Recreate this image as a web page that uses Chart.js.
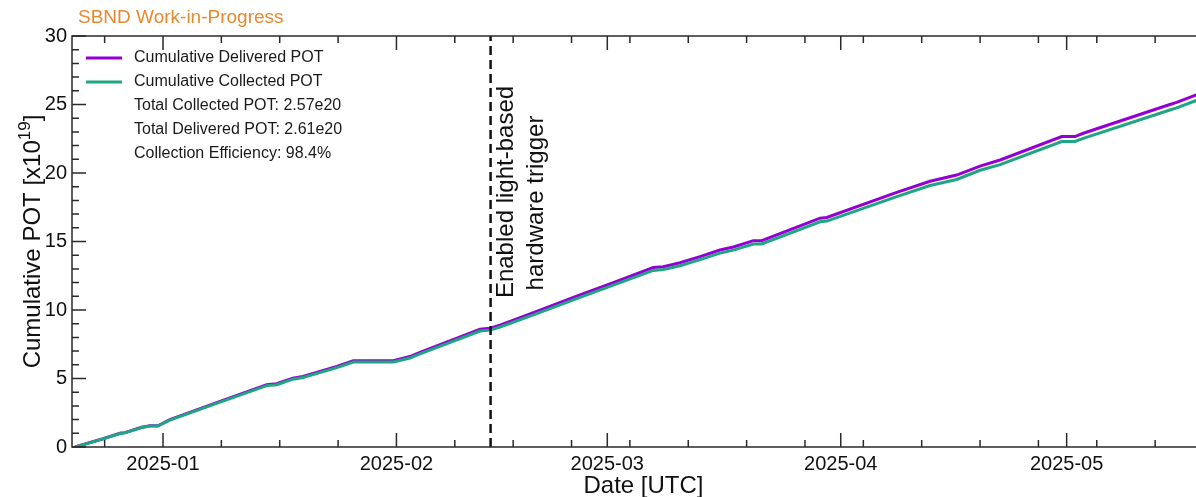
<!DOCTYPE html>
<html>
<head>
<meta charset="utf-8">
<script src="https://cdn.jsdelivr.net/npm/chart.js@4"></script>
<style>
  html, body { margin: 0; padding: 0; background: #fff; overflow: hidden; }
  #wrap { width: 1240px; height: 497px; }
</style>
</head>
<body>
<div id="wrap"><canvas id="potChart"></canvas></div>
<script>
// timestamps (UTC) of the sampled points
const potDates = [
  "2024-12-20 07:30", "2024-12-24 01:00", "2024-12-26 07:00", "2024-12-26 23:00",
  "2024-12-29 04:00", "2024-12-30 06:30", "2024-12-31 08:00", "2025-01-01 22:00",
  "2025-01-08 14:00", "2025-01-14 18:30", "2025-01-16 02:30", "2025-01-18 06:00",
  "2025-01-19 14:00", "2025-01-24 02:00", "2025-01-26 06:30", "2025-01-31 14:00",
  "2025-02-02 19:00", "2025-02-04 03:00", "2025-02-12 02:30", "2025-02-13 10:30",
  "2025-02-14 18:00", "2025-02-19 04:30", "2025-02-25 09:00", "2025-03-01 19:00",
  "2025-03-07 02:30", "2025-03-08 10:30", "2025-03-10 16:00", "2025-03-13 07:30",
  "2025-03-15 23:00", "2025-03-17 18:00", "2025-03-20 09:30", "2025-03-21 12:00",
  "2025-03-29 06:00", "2025-03-30 03:30", "2025-04-08 10:30", "2025-04-12 20:30",
  "2025-04-16 09:30", "2025-04-19 12:00", "2025-04-22 04:00", "2025-04-30 08:30",
  "2025-05-02 02:30", "2025-05-03 05:00", "2025-05-14 17:00", "2025-05-15 14:30",
  "2025-05-18 05:00", "2025-05-20 10:00"
];
// cumulative POT, units of 1e19
const deliveredPOT = [
  0, 0.6, 1.0, 1.05, 1.44, 1.55, 1.55, 2.0,
  3.33, 4.55, 4.62, 5.03, 5.15, 5.88, 6.3, 6.3,
  6.6, 6.9, 8.6, 8.67, 8.9, 9.8, 11.1, 12.0,
  13.1, 13.16, 13.45, 13.9, 14.38, 14.6, 15.06, 15.06,
  16.7, 16.75, 18.58, 19.4, 19.85, 20.5, 20.95, 22.66,
  22.66, 22.9, 25.0, 25.15, 25.7, 26.1
];
const collectedPOT = [
  0, 0.59, 0.98, 1.03, 1.42, 1.53, 1.53, 1.97,
  3.28, 4.48, 4.55, 4.95, 5.07, 5.79, 6.2, 6.2,
  6.5, 6.79, 8.46, 8.53, 8.76, 9.64, 10.92, 11.81,
  12.89, 12.95, 13.23, 13.68, 14.15, 14.37, 14.82, 14.82,
  16.44, 16.49, 18.28, 19.09, 19.53, 20.2, 20.61, 22.3,
  22.3, 22.53, 24.6, 24.75, 25.29, 25.7
];
const triggerDate = "2025-02-13 12:00";

const xTickDates = ["2025-01-01", "2025-02-01", "2025-03-01", "2025-04-01", "2025-05-01"];
const xTickLabels = ["2025-01", "2025-02", "2025-03", "2025-04", "2025-05"];
const yTicks = [0, 5, 10, 15, 20, 25, 30];

const legendLines = [
  "Total Collected POT: 2.57e20",
  "Total Delivered POT: 2.61e20",
  "Collection Efficiency: 98.4%"
];

const PURPLE = "#9400d3";
const GREEN = "#1ea582";
const FONT = "'Liberation Sans', Arial, Helvetica, sans-serif";

// days since 2025-01-01 00:00 UTC
const t0 = Date.UTC(2025, 0, 1);
function toDay(s) {
  const iso = s.length > 10 ? s.replace(" ", "T") + ":00Z" : s + "T00:00:00Z";
  return (Date.parse(iso) - t0) / 864e5;
}
const xDays = potDates.map(toDay);
const xMajor = xTickDates.map(toDay);
const xMin = -12.085, xMax = 139.7;
const xMinorStep = 7.75; // (Feb 1 - Jan 1) / 4
const trigDay = toDay(triggerDate);

const frame = {
  id: "frame",
  afterDatasetsDraw(chart) {
    const { ctx, chartArea: a, scales: { x, y } } = chart;
    ctx.save();
    ctx.strokeStyle = "#2a2a2a";
    ctx.lineWidth = 1.5;
    ctx.strokeRect(a.left, a.top, a.right - a.left, a.bottom - a.top);

    ctx.beginPath();
    const xt = (v, len) => {
      const p = x.getPixelForValue(v);
      if (p <= a.left || p >= a.right) return;
      ctx.moveTo(p, a.bottom); ctx.lineTo(p, a.bottom - len);
      ctx.moveTo(p, a.top); ctx.lineTo(p, a.top + len);
    };
    xMajor.forEach(v => xt(v, 14));
    for (let v = -xMinorStep; v < xMax; v += xMinorStep) {
      if (xMajor.some(m => Math.abs(m - v) < 0.01)) continue;
      xt(v, 7);
    }
    for (let v = 0; v <= 30; v++) {
      const len = v % 5 === 0 ? 14 : 7;
      const p = y.getPixelForValue(v);
      ctx.moveTo(a.left, p); ctx.lineTo(a.left + len, p);
      ctx.moveTo(a.right, p); ctx.lineTo(a.right - len, p);
    }
    ctx.stroke();

    // legend
    const items = chart.data.datasets.filter(d => d.inLegend);
    items.sort((p, q) => p.legendPos - q.legendPos);
    ctx.font = "16px " + FONT;
    ctx.fillStyle = "#1a1a1a";
    ctx.textBaseline = "middle";
    ctx.textAlign = "left";
    let ly = a.top + 22;
    items.forEach(d => {
      ctx.strokeStyle = d.borderColor;
      ctx.lineWidth = 3;
      ctx.beginPath(); ctx.moveTo(a.left + 14, ly); ctx.lineTo(a.left + 50, ly); ctx.stroke();
      ctx.fillText(d.label, a.left + 62, ly);
      ly += 23.9;
    });
    legendLines.forEach(t => { ctx.fillText(t, a.left + 62, ly); ly += 23.9; });

    // annotation next to dashed line
    const px = x.getPixelForValue(trigDay);
    ctx.font = "24px " + FONT;
    ctx.fillStyle = "#111";
    ctx.textAlign = "center";
    ctx.translate(px + 16, a.top + 156);
    ctx.rotate(-Math.PI / 2);
    ctx.fillText("Enabled light-based", 0, 0);
    ctx.rotate(Math.PI / 2);
    ctx.translate(30, 11);
    ctx.rotate(-Math.PI / 2);
    ctx.fillText("hardware trigger", 0, 0);
    ctx.restore();

    // outer texts
    ctx.save();
    ctx.font = "19px " + FONT;
    ctx.fillStyle = "#e6892f";
    ctx.textAlign = "left";
    ctx.textBaseline = "middle";
    ctx.fillText("SBND Work-in-Progress", 78, 18);

    ctx.fillStyle = "#111";
    ctx.font = "24px " + FONT;
    ctx.textAlign = "center";
    ctx.textBaseline = "alphabetic";
    ctx.fillText("Date [UTC]", (a.left + a.right) / 2, 493);

    // y title with superscript
    const main = "Cumulative POT [x10", sup = "19", tail = "]";
    ctx.font = "24px " + FONT;
    const w1 = ctx.measureText(main).width, w3 = ctx.measureText(tail).width;
    ctx.font = "17px " + FONT;
    const w2 = ctx.measureText(sup).width;
    const total = w1 + w2 + w3;
    ctx.translate(40, (a.top + a.bottom) / 2);
    ctx.rotate(-Math.PI / 2);
    ctx.textAlign = "left";
    ctx.font = "24px " + FONT;
    ctx.fillText(main, -total / 2, 0);
    ctx.font = "17px " + FONT;
    ctx.fillText(sup, -total / 2 + w1, -10);
    ctx.font = "24px " + FONT;
    ctx.fillText(tail, -total / 2 + w1 + w2, 0);
    ctx.restore();
  }
};

new Chart(document.getElementById("potChart"), {
  type: "line",
  data: {
    datasets: [
      {
        label: "Cumulative Delivered POT",
        data: xDays.map((d, i) => ({ x: d, y: deliveredPOT[i] })),
        borderColor: PURPLE,
        borderWidth: 3,
        pointRadius: 0,
        tension: 0,
        order: 3,
        inLegend: true,
        legendPos: 0
      },
      {
        label: "Cumulative Collected POT",
        data: xDays.map((d, i) => ({ x: d, y: collectedPOT[i] })),
        borderColor: GREEN,
        borderWidth: 3,
        pointRadius: 0,
        tension: 0,
        order: 2,
        inLegend: true,
        legendPos: 1
      },
      {
        label: "trigger",
        data: [{ x: trigDay, y: 0 }, { x: trigDay, y: 30 }],
        borderColor: "#111",
        borderWidth: 2.5,
        borderDash: [9, 5],
        pointRadius: 0,
        order: 1
      }
    ]
  },
  options: {
    responsive: true,
    maintainAspectRatio: false,
    animation: false,
    layout: { padding: { top: 36, right: 25, left: 0, bottom: 0 } },
    plugins: { legend: { display: false }, tooltip: { enabled: false } },
    scales: {
      x: {
        type: "linear",
        min: xMin,
        max: xMax,
        grid: { display: false, drawTicks: false },
        border: { display: false },
        afterBuildTicks: s => { s.ticks = xMajor.map(v => ({ value: v })); },
        afterFit: s => { s.height = 50; },
        ticks: {
          autoSkip: false,
          maxRotation: 0,
          padding: 5,
          color: "#111",
          font: { family: FONT, size: 20 },
          callback: v => xTickLabels[xMajor.findIndex(m => Math.abs(m - v) < 0.01)]
        }
      },
      y: {
        min: 0,
        max: 30,
        grid: { display: false, drawTicks: false },
        border: { display: false },
        afterBuildTicks: s => { s.ticks = yTicks.map(v => ({ value: v })); },
        afterFit: s => { s.width = 72; },
        ticks: {
          padding: 5,
          color: "#111",
          font: { family: FONT, size: 20 }
        }
      }
    }
  },
  plugins: [frame]
});
</script>
</body>
</html>
